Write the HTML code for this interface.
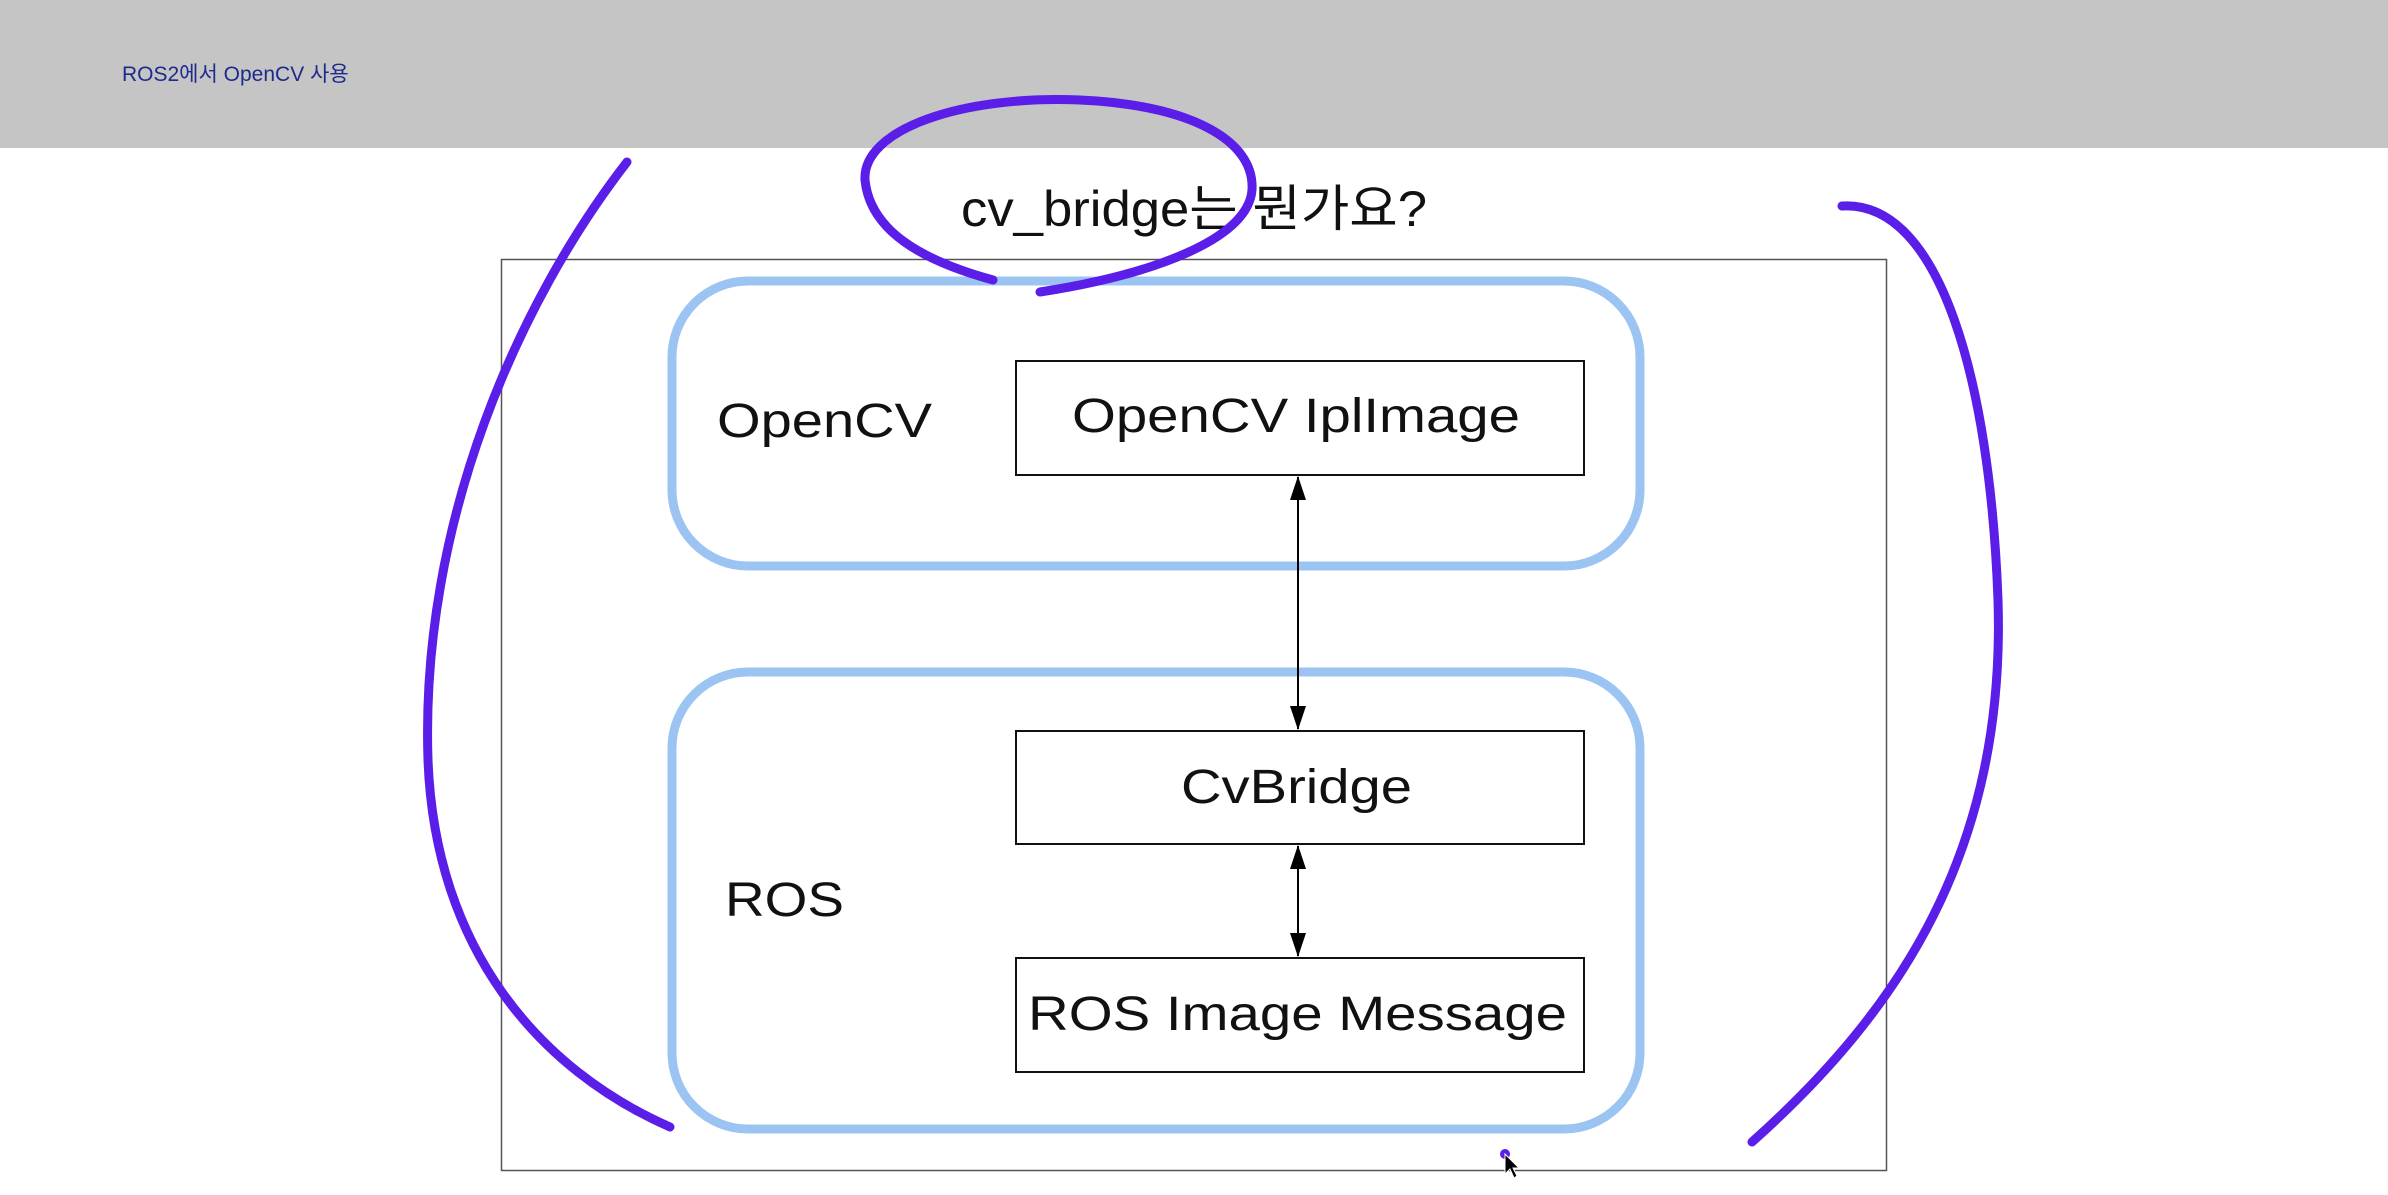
<!DOCTYPE html>
<html><head><meta charset="utf-8"><style>
html,body{margin:0;padding:0;background:#fff;}
body{width:2388px;height:1195px;position:relative;overflow:hidden;font-family:"Liberation Sans","Noto Sans CJK KR",sans-serif;}
.hdr{position:absolute;left:0;top:0;width:2388px;height:148px;background:#c5c5c5;}
.hdr span{position:absolute;left:122px;top:58px;font-size:21px;color:#1e2a8c;}
</style></head><body>
<div class="hdr"><span>ROS2에서 OpenCV 사용</span></div>
<svg width="2388" height="1195" style="position:absolute;left:0;top:0">
<defs>
<marker id="at" markerWidth="24" markerHeight="16" refX="23" refY="8" orient="auto-start-reverse" markerUnits="userSpaceOnUse">
<path d="M0,0 L24,8 L0,16 z" fill="#000"/></marker>
</defs>
<text x="961" y="226" textLength="466" lengthAdjust="spacingAndGlyphs" font-size="50" font-family="Liberation Sans,Noto Sans CJK KR,sans-serif" fill="#111">cv_bridge는 뭔가요?</text>
<rect x="501.5" y="259.5" width="1385" height="911" fill="none" stroke="#555" stroke-width="1.5"/>
<rect x="672" y="281" width="968" height="285" rx="76" fill="none" stroke="#9cc4f2" stroke-width="9"/>
<rect x="672" y="672" width="968" height="457" rx="76" fill="none" stroke="#9cc4f2" stroke-width="9"/>
<g fill="#fff" stroke="#111" stroke-width="2">
<rect x="1016" y="361" width="568" height="114"/>
<rect x="1016" y="731" width="568" height="113"/>
<rect x="1016" y="958" width="568" height="114"/>
</g>
<g font-family="Liberation Sans,sans-serif" font-size="48" fill="#111" lengthAdjust="spacingAndGlyphs">
<text x="1072" y="432" textLength="448" lengthAdjust="spacingAndGlyphs">OpenCV IplImage</text>
<text x="1181" y="803" textLength="231" lengthAdjust="spacingAndGlyphs">CvBridge</text>
<text x="1028" y="1030" textLength="539" lengthAdjust="spacingAndGlyphs">ROS Image Message</text>
<text x="717" y="437" textLength="215" lengthAdjust="spacingAndGlyphs">OpenCV</text>
<text x="725" y="916" textLength="119" lengthAdjust="spacingAndGlyphs">ROS</text>
</g>
<line x1="1298" y1="477" x2="1298" y2="729" stroke="#000" stroke-width="2" marker-start="url(#at)" marker-end="url(#at)"/>
<line x1="1298" y1="846" x2="1298" y2="956" stroke="#000" stroke-width="2" marker-start="url(#at)" marker-end="url(#at)"/>
<g fill="none" stroke="#5a1ee8" stroke-width="9" stroke-linecap="round">
<path d="M993,280 C920,260 870,230 865,180 C862,130 960,95 1080,100 C1190,105 1255,140 1252,190 C1248,240 1150,275 1040,292"/>
<path d="M627,162 C520,300 420,520 428,760 C435,950 540,1070 670,1127"/>
<path d="M1842,206 C1940,200 1990,380 1998,600 C2006,850 1900,1010 1752,1142"/>
</g>
<circle cx="1505" cy="1154" r="5" fill="#5a1ee8"/>
<path d="M1505,1154 L1505,1174 L1510,1169 L1514,1178 L1517,1176 L1513,1168 L1519,1168 z" fill="#000" stroke="#fff" stroke-width="1"/>
</svg>
</body></html>
